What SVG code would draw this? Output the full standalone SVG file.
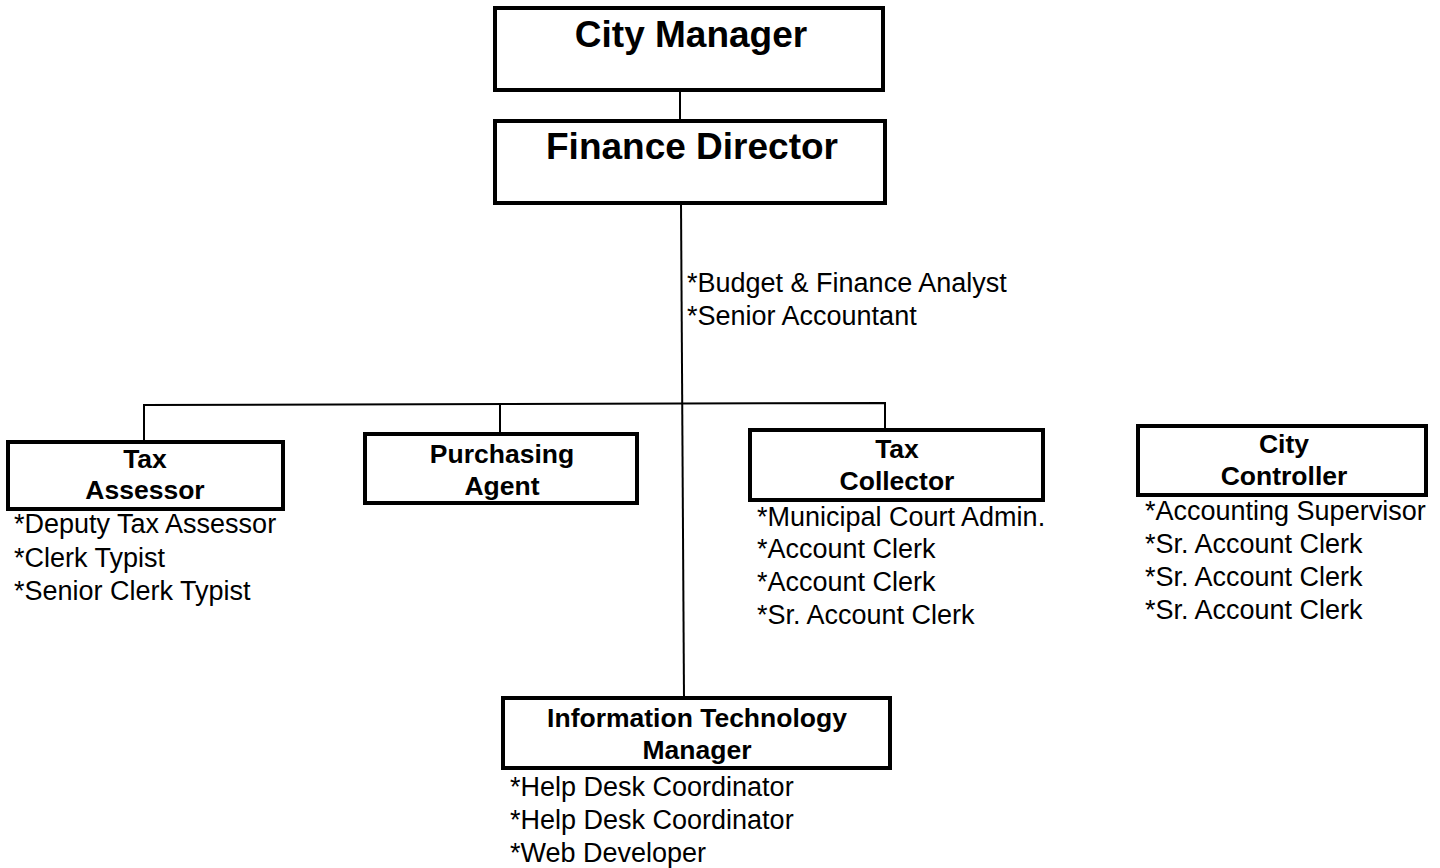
<svg xmlns="http://www.w3.org/2000/svg" width="1440" height="868" viewBox="0 0 1440 868">
<style>
.box{fill:#fff;stroke:#000;stroke-width:4}
.conn{stroke:#000;stroke-width:2;fill:none}
.big{font-family:"Liberation Sans",Arial,sans-serif;font-weight:bold;font-size:37px;text-anchor:middle}
.title{font-family:"Liberation Sans",Arial,sans-serif;font-weight:bold;font-size:26.5px;text-anchor:middle}
.item{font-family:"Liberation Sans",Arial,sans-serif;font-size:27px}
</style>
<rect width="1440" height="868" fill="#fff"/>
<g id="connectors">
<line class="conn" x1="680" y1="90" x2="680" y2="120"/>
<line class="conn" x1="681" y1="203" x2="684" y2="698"/>
<polyline class="conn" points="144,442 144,405 885,403 885,430"/>
<line class="conn" x1="500" y1="404" x2="500" y2="434"/>
</g>
<g id="city-manager">
<rect class="box" x="495" y="8" width="388" height="82"/>
<text class="big" x="691" y="47">City Manager</text>
</g>
<g id="finance-director">
<rect class="box" x="495" y="121" width="390" height="82"/>
<text class="big" x="692" y="159">Finance Director</text>
<text class="item" x="687" y="292">*Budget &amp; Finance Analyst</text>
<text class="item" x="687" y="325">*Senior Accountant</text>
</g>
<g id="tax-assessor">
<rect class="box" x="8" y="442" width="275" height="67"/>
<text class="title" x="145" y="468">Tax</text>
<text class="title" x="145" y="499">Assessor</text>
<text class="item" x="14" y="533">*Deputy Tax Assessor</text>
<text class="item" x="14" y="567">*Clerk Typist</text>
<text class="item" x="14" y="600">*Senior Clerk Typist</text>
</g>
<g id="purchasing-agent">
<rect class="box" x="365" y="434" width="272" height="69"/>
<text class="title" x="502" y="463">Purchasing</text>
<text class="title" x="502" y="495">Agent</text>
</g>
<g id="tax-collector">
<rect class="box" x="750" y="430" width="293" height="70"/>
<text class="title" x="897" y="458">Tax</text>
<text class="title" x="897" y="490">Collector</text>
<text class="item" x="757" y="526">*Municipal Court Admin.</text>
<text class="item" x="757" y="558">*Account Clerk</text>
<text class="item" x="757" y="591">*Account Clerk</text>
<text class="item" x="757" y="624">*Sr. Account Clerk</text>
</g>
<g id="city-controller">
<rect class="box" x="1138" y="426" width="288" height="69"/>
<text class="title" x="1284" y="453">City</text>
<text class="title" x="1284" y="485">Controller</text>
<text class="item" x="1145" y="520">*Accounting Supervisor</text>
<text class="item" x="1145" y="553">*Sr. Account Clerk</text>
<text class="item" x="1145" y="586">*Sr. Account Clerk</text>
<text class="item" x="1145" y="619">*Sr. Account Clerk</text>
</g>
<g id="it-manager">
<rect class="box" x="503" y="698" width="387" height="70"/>
<text class="title" x="697" y="727">Information Technology</text>
<text class="title" x="697" y="759">Manager</text>
<text class="item" x="510" y="796">*Help Desk Coordinator</text>
<text class="item" x="510" y="829">*Help Desk Coordinator</text>
<text class="item" x="510" y="862">*Web Developer</text>
</g>
</svg>
